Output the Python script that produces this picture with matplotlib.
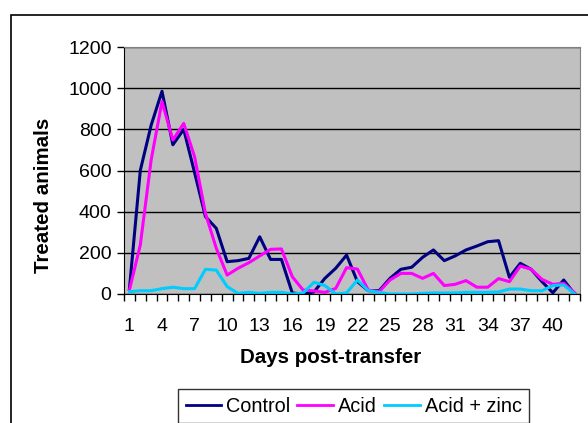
import matplotlib.pyplot as plt
import numpy as np
from matplotlib.patches import Rectangle

plt.rcParams['font.family'] = ['Liberation Sans', 'DejaVu Sans']

days = np.arange(1, 43)
control = [25, 600, 820, 985, 725, 800, 590, 376, 319, 157, 162, 173, 278, 168,
           168, 5, 0, 10, 76, 125, 189, 60, 16, 16, 76, 120, 130, 178, 214, 162,
           185, 214, 233, 254, 259, 81, 149, 120, 60, 6, 68, 0]
acid = [20, 238, 651, 935, 748, 829, 667, 392, 222, 92, 125, 152, 185, 217,
        219, 84, 19, 15, 8, 27, 128, 121, 19, 11, 68, 100, 100, 76, 100, 41,
        47, 65, 33, 33, 75, 60, 136, 120, 71, 47, 52, 6]
acid_zinc = [11, 16, 16, 26, 33, 26, 26, 120, 116, 36, 3, 8, 3, 8,
             8, 0, 5, 57, 41, 0, 5, 68, 16, 8, 0, 0, 0, 3, 5, 5,
             5, 8, 8, 8, 10, 24, 24, 16, 16, 41, 44, 0]
tick_days = np.arange(1, 41, 3)

fig = plt.figure(figsize=(5.88, 4.23), dpi=100)
fig.patch.set_facecolor('white')
# outer chart border (runs off the right and bottom edges)
fig.patches.append(Rectangle((11/588, -0.1), 1.0, 1 - 15/423 + 0.1,
                             transform=fig.transFigure, fill=False,
                             edgecolor='black', linewidth=1.2))

ax = fig.add_axes([124/588, 1 - 294/423, (580-124)/588, (294-47)/423])
ax.set_facecolor('#C0C0C0')
ax.plot(days, control, color='#000080', lw=2.2, label='Control')
ax.plot(days, acid, color='#FF00FF', lw=2.2, label='Acid')
ax.plot(days, acid_zinc, color='#00CCFF', lw=2.2, label='Acid + zinc')

ax.set_xlim(0.5, 42.5)
ax.set_ylim(0, 1200)
ax.set_yticks(range(0, 1201, 200))
ax.yaxis.grid(True, color='black', lw=1)
ax.set_axisbelow(True)
ax.set_xticks(np.arange(0.5, 43, 1), minor=True)
ax.set_xticks(tick_days)
ax.set_xticklabels([str(d) for d in tick_days])
ax.tick_params(axis='x', which='major', length=0, labelsize=14, pad=17)
ax.tick_params(axis='x', which='minor', length=5, width=1)
ax.tick_params(axis='y', length=5, width=1, labelsize=14, pad=4)
for s in ['top', 'right']:
    ax.spines[s].set_color('#808080')
for s in ['left', 'bottom']:
    ax.spines[s].set_color('black')

ax.set_ylabel('Treated animals', fontsize=14.8, fontweight='bold')
ax.yaxis.set_label_coords(-0.156, 0.40)
ax.set_xlabel('Days post-transfer', fontsize=14.8, fontweight='bold')
ax.xaxis.set_label_coords(0.454, -0.259)
ax.xaxis.label.set_va('center')

leg = fig.legend(loc='upper left', bbox_to_anchor=(178/588, 1 - 389/423),
                 ncol=3, fontsize=14.3, frameon=True, fancybox=False,
                 handlelength=1.8, handletextpad=0.26, columnspacing=0.34,
                 borderpad=0.38, borderaxespad=0)
leg.get_frame().set_edgecolor('black')
leg.get_frame().set_linewidth(1)
for line in leg.get_lines():
    line.set_linewidth(2)

plt.savefig('out.png', dpi=100)
